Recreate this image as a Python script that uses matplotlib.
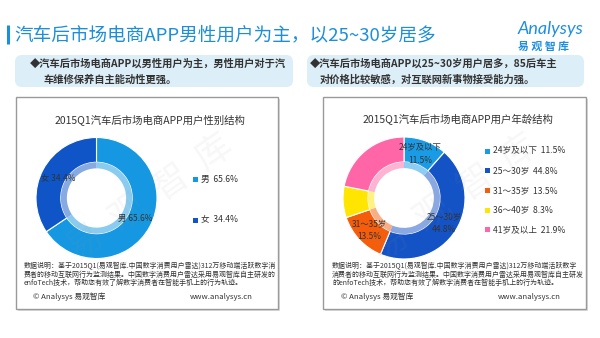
import matplotlib
matplotlib.use("Agg")
import matplotlib.pyplot as plt
from matplotlib.patches import Rectangle, FancyBboxPatch
import matplotlib.colors as mcolors
import numpy as np

plt.rcParams['font.family'] = ['Noto Sans CJK SC', 'DejaVu Sans']

# ---------------- data ----------------
main_title = "汽车后市场电商APP男性用户为主，以25~30岁居多"
left_note = ["◆汽车后市场电商APP以男性用户为主，男性用户对于汽", "车维修保养自主能动性更强。"]
right_note = ["◆汽车后市场电商APP以25~30岁用户居多，85后车主", "对价格比较敏感，对互联网新事物接受能力强。"]
gender_title = "2015Q1汽车后市场电商APP用户性别结构"
age_title = "2015Q1汽车后市场电商APP用户年龄结构"
gender_labels = ["男", "女"]
gender_values = [65.6, 34.4]
gender_colors = ["#1597E1", "#0F55C8"]
age_labels = ["24岁及以下", "25～30岁", "31～35岁", "36～40岁", "41岁及以上"]
age_values = [11.5, 44.8, 13.5, 8.3, 21.9]
age_colors = ["#1A9BE6", "#1453C6", "#F55D0B", "#FFE500", "#FF66A8"]
age_show_label = [True, True, True, False, False]
left_foot = ["数据说明：基于2015Q1(易观智库.中国数字消费用户雷达)312万移动端活跃数字消",
             "费者的移动互联网行为监测结果。中国数字消费用户雷达采用易观智库自主研发的",
             "enfoTech技术，帮助您有效了解数字消费者在智能手机上的行为轨迹。"]
right_foot = ["数据说明：基于2015Q1(易观智库.中国数字消费用户雷达)312万移动端活跃数字",
              "消费者的移动互联网行为监测结果。中国数字消费用户雷达采用易观智库自主研发",
              "的enfoTech技术，帮助您有效了解数字消费者在智能手机上的行为轨迹。"]
copyright_text = "© Analysys 易观智库"
site_text = "www.analysys.cn"

W, H = 600, 338
fig = plt.figure(figsize=(6, 3.38), dpi=100)
fig.patch.set_facecolor("white")
bg = fig.add_axes([0, 0, 1, 1])
bg.set_xlim(0, W); bg.set_ylim(H, 0); bg.axis("off")

TXT = "#333333"
BLUE = "#1C8FD9"

# header
bg.plot([8, 8], [25, 44], color=BLUE, lw=2.2, solid_capstyle="butt")
bg.text(14, 35, main_title, fontsize=13.4, color=BLUE, va="center", ha="left")
bg.text(583, 29, "Analysys", fontsize=13, color="#1E8FE0", style="italic",
        ha="right", va="center", family=["Lato", "DejaVu Sans"])
bg.text(543, 47, "易 观 智 库", fontsize=7.8, color="#1E8FE0", fontweight="bold",
        ha="center", va="center")

# callout boxes
for (x0, x1, lines, tx) in [(15, 293, left_note, 30), (307, 584, right_note, 310)]:
    bg.add_patch(FancyBboxPatch((x0, 55), x1 - x0, 32,
                                boxstyle="round,pad=0,rounding_size=7",
                                fc="#DCEEF8", ec="none"))
    bg.text(tx, 64, lines[0], fontsize=7.4, fontweight="bold", color=TXT, va="center")
    bg.text(tx + (13 if tx == 30 else 10), 80, lines[1], fontsize=7.4,
            fontweight="bold", color=TXT, va="center")

# panels
panels = [(16, 278), (323, 586)]
for x0, x1 in panels:
    bg.add_patch(Rectangle((x0 + 1.5, 98.5), x1 - x0, 212, fc="#dddddd", ec="none"))
    bg.add_patch(Rectangle((x0, 97), x1 - x0, 212, fc="white", ec="#9a9a9a", lw=1))

bg.text(150, 120, gender_title, fontsize=7.5, color=TXT, ha="center", va="center")
bg.text(458, 120, age_title, fontsize=7.5, color=TXT, ha="center", va="center")

for lines, x0, px in [(left_foot, 24, 16), (right_foot, 332, 323)]:
    for i, ln in enumerate(lines):
        bg.text(x0, 266 + i * 8.6, ln, fontsize=5.0, color=TXT, va="center")
    bg.text(x0 + 9, 297, copyright_text, fontsize=5.6, color=TXT, va="center")
    bg.text(px + (237 if px == 16 else 238), 297, site_text, fontsize=5.6,
            color=TXT, va="center", ha="right")


def lighten(c, f=0.5):
    r, g, b = mcolors.to_rgb(c)
    return (r + (1 - r) * f, g + (1 - g) * f, b + (1 - b) * f)


def donut(cx, cy, r, values, colors):
    ax = fig.add_axes([(cx - r) / W, 1 - (cy + r) / H, 2 * r / W, 2 * r / H])
    ax.set_xlim(-1, 1); ax.set_ylim(-1, 1); ax.axis("off")
    wedges, _ = ax.pie(values, colors=colors, startangle=90, counterclock=False,
                       radius=1, wedgeprops=dict(width=0.41, edgecolor="white", linewidth=0.8))
    ax.pie(values, colors=[lighten(c, 0.5) for c in colors], startangle=90,
           counterclock=False, radius=0.59,
           wedgeprops=dict(width=0.1, edgecolor="none"))
    ax.set_xlim(-1, 1); ax.set_ylim(-1, 1)
    ax.set_aspect("auto")
    return ax, wedges


axL, wL = donut(96.5, 198, 60.5, gender_values, gender_colors)
for w, lab, v in zip(wL, gender_labels, gender_values):
    a = np.deg2rad((w.theta1 + w.theta2) / 2)
    axL.text(0.72 * np.cos(a), 0.72 * np.sin(a), f"{lab} {v}%", fontsize=6,
             color=TXT, ha="center", va="center")

axR, wR = donut(404, 198, 61, age_values, age_colors)
for w, lab, v, show in zip(wR, age_labels, age_values, age_show_label):
    if not show:
        continue
    a = np.deg2rad((w.theta1 + w.theta2) / 2)
    axR.text(0.77 * np.cos(a), 0.77 * np.sin(a), f"{lab}\n{v}%", fontsize=6,
             color=TXT, ha="center", va="center", linespacing=1.6)

# legends
for i, (lab, v, c) in enumerate(zip(gender_labels, gender_values, gender_colors)):
    y = 179 + i * 41
    bg.add_patch(Rectangle((193, y - 2.5), 5, 5, fc=c, ec="none"))
    bg.text(201, y, f"{lab}  {v}%", fontsize=6.2, color=TXT, va="center")
for i, (lab, v, c) in enumerate(zip(age_labels, age_values, age_colors)):
    y = 151 + i * 19.7
    bg.add_patch(Rectangle((485, y - 2.5), 5, 5, fc=c, ec="none"))
    bg.text(493, y, f"{lab}  {v}%", fontsize=6.2, color=TXT, va="center")

# watermark overlay
ov = fig.add_axes([0, 0, 1, 1])
ov.set_xlim(0, W); ov.set_ylim(H, 0); ov.axis("off")
ov.patch.set_alpha(0)
for cx in (150, 455):
    ov.text(cx, 198, "易  观  智  库", fontsize=26, color="#999999", alpha=0.08,
            rotation=35, ha="center", va="center")

fig.savefig("out.png", dpi=100, facecolor="white")
